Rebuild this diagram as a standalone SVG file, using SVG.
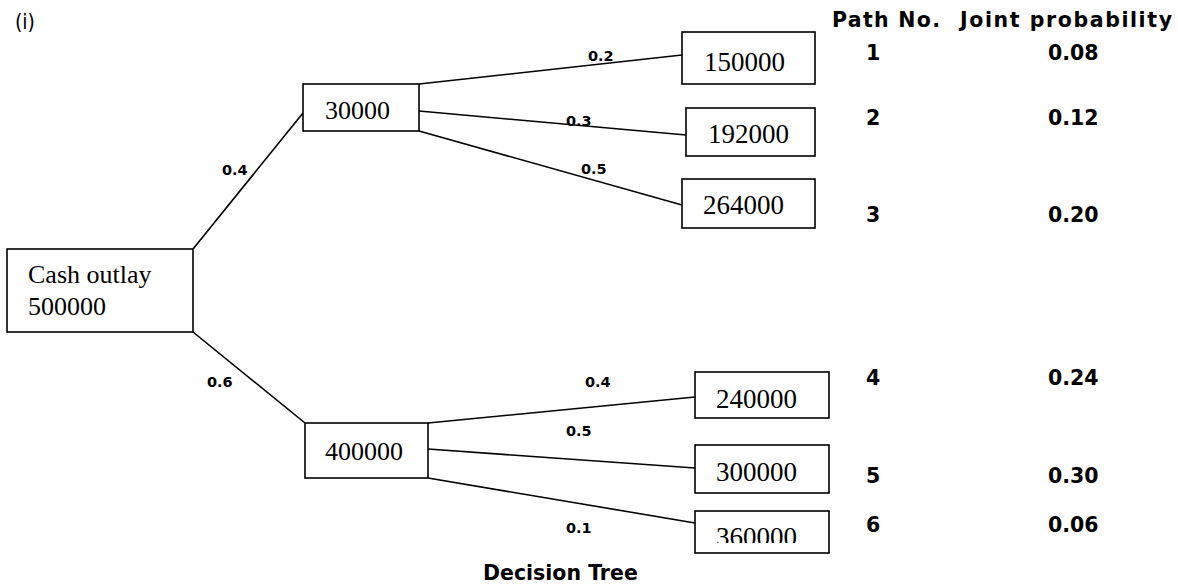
<svg xmlns="http://www.w3.org/2000/svg" width="1178" height="584" viewBox="0 0 1178 584">
<style>
.box{fill:#fff;stroke:#000;stroke-width:1.6}
.val{font-family:"Liberation Serif","Times New Roman",serif;font-size:26px;fill:#000}
.num{font-size:27px}
.lbl{font-family:"DejaVu Sans",sans-serif;font-weight:bold;font-size:14.5px;fill:#000}
.hd{font-family:"DejaVu Sans",sans-serif;font-weight:bold;font-size:20.5px;fill:#000}
.cap{font-family:"DejaVu Sans",sans-serif;font-size:22px;fill:#000}
.conn line{stroke:#000;stroke-width:1.6}
</style>
<defs>
<clipPath id="clip360"><rect x="695" y="500" width="134" height="43"/></clipPath>
</defs>
<rect width="1178" height="584" fill="#fff"/>
<text class="cap" x="15" y="29" textLength="20" lengthAdjust="spacingAndGlyphs">(i)</text>

<g id="connectors" class="conn">
<line x1="193" y1="249" x2="303" y2="113"/>
<line x1="193" y1="332" x2="305" y2="423"/>
<line x1="419" y1="84" x2="682" y2="55"/>
<line x1="419" y1="111" x2="686" y2="135"/>
<line x1="419" y1="131" x2="682" y2="205"/>
<line x1="428" y1="423" x2="695" y2="397"/>
<line x1="428" y1="449" x2="695" y2="468"/>
<line x1="428" y1="478" x2="695" y2="523"/>
</g>

<g id="edge-labels">
<text class="lbl" x="222" y="175">0.4</text>
<text class="lbl" x="207" y="387">0.6</text>
<text class="lbl" x="588" y="61">0.2</text>
<text class="lbl" x="566" y="126">0.3</text>
<text class="lbl" x="581" y="174">0.5</text>
<text class="lbl" x="585" y="387">0.4</text>
<text class="lbl" x="566" y="436">0.5</text>
<text class="lbl" x="566" y="533">0.1</text>
</g>

<g id="node-root">
<rect class="box" x="7" y="249" width="186" height="83"/>
<text class="val" x="28" y="283">Cash outlay</text>
<text class="val" x="28" y="315">500000</text>
</g>
<g id="node-30000">
<rect class="box" x="303" y="84" width="116" height="47"/>
<text class="val" x="325" y="119">30000</text>
</g>
<g id="node-400000">
<rect class="box" x="305" y="423" width="123" height="55"/>
<text class="val" x="325" y="460">400000</text>
</g>
<g id="node-150000">
<rect class="box" x="682" y="32" width="133" height="52"/>
<text class="val num" x="704" y="71">150000</text>
</g>
<g id="node-192000">
<rect class="box" x="686" y="108" width="129" height="48"/>
<text class="val num" x="708" y="143">192000</text>
</g>
<g id="node-264000">
<rect class="box" x="682" y="179" width="133" height="49"/>
<text class="val num" x="703" y="214">264000</text>
</g>
<g id="node-240000">
<rect class="box" x="695" y="372" width="134" height="46"/>
<text class="val num" x="716" y="408">240000</text>
</g>
<g id="node-300000">
<rect class="box" x="695" y="445" width="134" height="48"/>
<text class="val num" x="716" y="481">300000</text>
</g>
<g id="node-360000">
<rect class="box" x="695" y="511" width="134" height="42"/>
<text class="val num" x="716" y="546" clip-path="url(#clip360)">360000</text>
</g>

<g id="table">
<text class="hd" x="832" y="27" font-size="21" textLength="108" lengthAdjust="spacing">Path No.</text>
<text class="hd" x="960" y="27" font-size="21" textLength="212" lengthAdjust="spacing">Joint probability</text>
<text class="hd" x="866" y="60">1</text>
<text class="hd" x="1048" y="60">0.08</text>
<text class="hd" x="866" y="125">2</text>
<text class="hd" x="1048" y="125">0.12</text>
<text class="hd" x="866" y="222">3</text>
<text class="hd" x="1048" y="222">0.20</text>
<text class="hd" x="866" y="385">4</text>
<text class="hd" x="1048" y="385">0.24</text>
<text class="hd" x="866" y="483">5</text>
<text class="hd" x="1048" y="483">0.30</text>
<text class="hd" x="866" y="532">6</text>
<text class="hd" x="1048" y="532">0.06</text>
</g>

<text class="hd" x="483" y="580" font-size="21">Decision Tree</text>
</svg>
